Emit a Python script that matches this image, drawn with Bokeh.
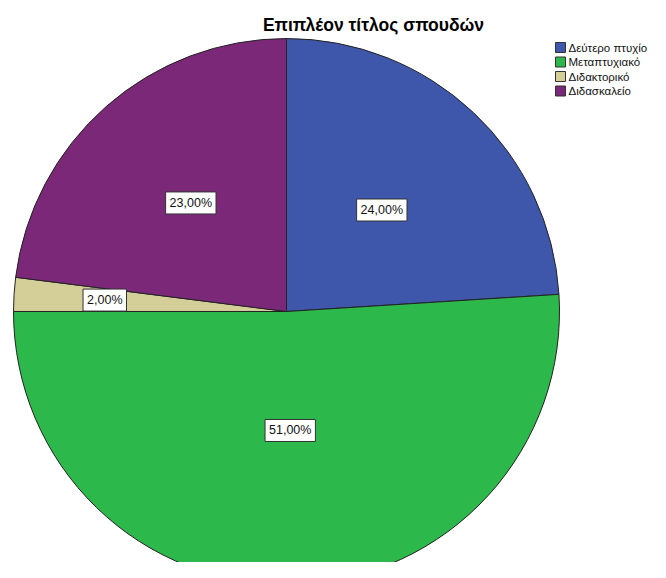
import math
from bokeh.plotting import figure
from bokeh.models import Range1d, ColumnDataSource
from bokeh.core.properties import value
from bokeh.embed import file_html
from bokeh.resources import INLINE

# ---- data ----
title = "Επιπλέον τίτλος σπουδών"
categories = ["Δεύτερο πτυχίο", "Μεταπτυχιακό", "Διδακτορικό", "Διδασκαλείο"]
percents = [24.0, 51.0, 2.0, 23.0]
colors = ["#3F57AA", "#2DB84B", "#D4CE98", "#7B2878"]

# ---- layout (picture pixels) ----
W, H = 650, 562
cx, cy, R = 286, 311, 273
label_r = [0.51, 0.436, 0.667, 0.53]   # label distance as fraction of radius

def Y(py):
    return -py

p = figure(width=W, height=H, output_backend="svg", toolbar_location=None,
           x_range=Range1d(0, W), y_range=Range1d(-H, 0),
           min_border=0)
p.axis.visible = False
p.grid.visible = False
p.outline_line_color = None
p.background_fill_color = "white"
p.border_fill_color = "white"

total = sum(percents)
starts, ends, lx, ly, labels = [], [], [], [], []
cum = 0.0
for i, v in enumerate(percents):
    a0 = math.pi / 2 - 2 * math.pi * (cum + v) / total
    a1 = math.pi / 2 - 2 * math.pi * cum / total
    starts.append(a0)
    ends.append(a1)
    mid = (a0 + a1) / 2
    lx.append(cx + R * label_r[i] * math.cos(mid))
    ly.append(Y(cy) + R * label_r[i] * math.sin(mid))
    labels.append(f"{v:.2f}".replace(".", ",") + "%")
    cum += v

src = ColumnDataSource(dict(start=starts, end=ends, color=colors,
                            lx=lx, ly=ly, label=labels))

p.wedge(x=cx, y=Y(cy), radius=R, start_angle="start", end_angle="end",
        fill_color="color", line_color="#222222", line_width=1, source=src)

p.text(x="lx", y="ly", text="label", source=src,
       text_font=value("Liberation Sans"), text_font_size="12.5px",
       text_color="#111111", text_align="center", text_baseline="middle",
       background_fill_color="white", border_line_color="#333333",
       border_line_width=1, padding=4)

# title
p.text(x=[373], y=[Y(24)], text=[title], text_font=value("Liberation Sans"),
       text_font_size="17.5px", text_font_style="bold", text_color="#000000",
       text_align="center", text_baseline="middle")

# legend
leg_y = [Y(47 + 14.5 * i) for i in range(len(categories))]
p.rect(x=[560] * len(categories), y=leg_y, width=10, height=10,
       fill_color=colors, line_color="#333333", line_width=1)
p.text(x=[568] * len(categories), y=leg_y, text=categories,
       text_font=value("Liberation Sans"), text_font_size="11.5px",
       text_color="#111111", text_align="left", text_baseline="middle")

open("out.html", "w").write(file_html(p, INLINE))
